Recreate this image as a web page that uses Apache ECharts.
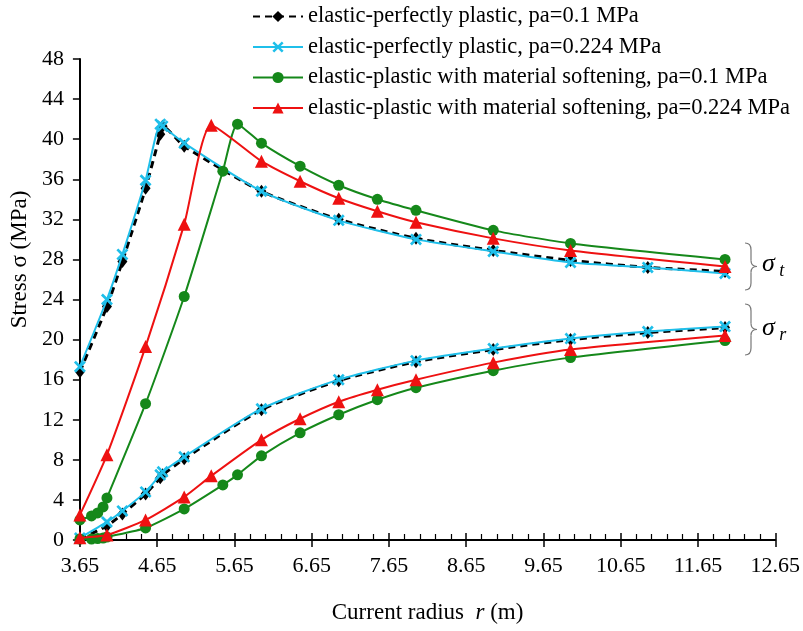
<!DOCTYPE html>
<html><head><meta charset="utf-8">
<script src="https://cdn.jsdelivr.net/npm/echarts@6/dist/echarts.min.js"></script>
<style>html,body{margin:0;padding:0;background:#fff}#c{width:803px;height:631px}</style>
</head><body><div id="c"></div>
<script>
// ---- data ----
const seriesNames = [
  'elastic-perfectly plastic, pa=0.1 MPa',
  'elastic-perfectly plastic, pa=0.224 MPa',
  'elastic-plastic with material softening, pa=0.1 MPa',
  'elastic-plastic with material softening, pa=0.224 MPa'
];
const xTicks = [3.65, 4.65, 5.65, 6.65, 7.65, 8.65, 9.65, 10.65, 11.65, 12.65];
const yTicks = [0, 4, 8, 12, 16, 20, 24, 28, 32, 36, 40, 44, 48];

const rPP      = [3.65, 4.0, 4.2, 4.5, 4.69, 4.72, 5.0, 6, 7, 8, 9, 10, 11, 12];
const pp01_t   = [16.8, 23.3, 27.8, 35.1, 40.5, 41.3, 39.3, 34.8, 32.0, 30.1, 28.9, 27.9, 27.2, 26.8];
const pp01_r   = [0.1, 1.4, 2.6, 4.6, 6.2, 6.5, 8.1, 13.0, 15.9, 17.8, 19.0, 20.0, 20.7, 21.2];
const pp0224_t = [17.3, 24.0, 28.5, 35.9, 41.5, 41.3, 39.6, 34.8, 31.9, 30.0, 28.8, 27.7, 27.2, 26.6];
const pp0224_r = [0.2, 1.8, 2.9, 4.8, 6.5, 6.8, 8.3, 13.1, 16.0, 17.9, 19.1, 20.1, 20.8, 21.3];

const rSoft01  = [3.65, 3.8, 3.88, 3.95, 4.0, 4.5, 5.0, 5.5, 5.69, 6, 6.5, 7, 7.5, 8, 9, 10, 12];
const soft01_t = [2.0, 2.4, 2.7, 3.3, 4.2, 13.6, 24.3, 36.8, 41.5, 39.6, 37.3, 35.4, 34.0, 32.9, 30.9, 29.6, 28.0];
const soft01_r = [0.1, 0.1, 0.15, 0.2, 0.3, 1.2, 3.1, 5.5, 6.5, 8.4, 10.7, 12.5, 14.0, 15.2, 16.9, 18.2, 19.9];

const rSoft0224  = [3.65, 4.0, 4.5, 5.0, 5.35, 6, 6.5, 7, 7.5, 8, 9, 10, 12];
const soft0224_t = [2.5, 8.5, 19.3, 31.5, 41.4, 37.8, 35.8, 34.1, 32.8, 31.7, 30.1, 28.9, 27.3];
const soft0224_r = [0.224, 0.5, 2.0, 4.3, 6.4, 10.0, 12.1, 13.8, 15.0, 16.0, 17.7, 19.0, 20.4];

// ---- build ----
const FONT = 'Liberation Serif';
const zip = (xs, ys) => xs.map((x, i) => [x, ys[i]]);
const crossPath = 'path://M0,1.6L1.6,0L5,3.4L8.4,0L10,1.6L6.6,5L10,8.4L8.4,10L5,6.6L1.6,10L0,8.4L3.4,5Z';

const styles = [
  {color:'#000000', symbol:'diamond', symbolSize:[10,13], lineStyle:{color:'#000', width:3, type:[7,5]}},
  {color:'#1fbfea', symbol:crossPath, symbolSize:12, lineStyle:{color:'#1fbfea', width:2}},
  {color:'#15881a', symbol:'circle', symbolSize:11, lineStyle:{color:'#15881a', width:2}},
  {color:'#ee1111', symbol:'triangle', symbolSize:13, lineStyle:{color:'#ee1111', width:2}}
];
const datasets = [
  [zip(rPP, pp01_t), zip(rPP, pp01_r)],
  [zip(rPP, pp0224_t), zip(rPP, pp0224_r)],
  [zip(rSoft01, soft01_t), zip(rSoft01, soft01_r)],
  [zip(rSoft0224, soft0224_t), zip(rSoft0224, soft0224_r)]
];
const series = [];
datasets.forEach((pair, i) => {
  pair.forEach(d => {
    series.push({
      name: seriesNames[i], type: 'line', data: d,
      xAxisIndex: 0, yAxisIndex: 0,
      symbol: styles[i].symbol, symbolSize: styles[i].symbolSize,
      showAllSymbol: true, smooth: 0.2,
      itemStyle: {color: styles[i].color},
      lineStyle: styles[i].lineStyle,
      emphasis: {disabled: true}, animation: false, z: 2 + i
    });
  });
});

// brace made of curves (annotation)
function brace(x0, y0, h) {
  const w = 6, m = h / 2, st = {stroke: '#777', lineWidth: 1.2, fill: 'none'};
  return {type: 'group', x: x0, y: y0, children: [
    {type: 'bezierCurve', shape: {x1: 0, y1: 0, x2: w, y2: 7, cpx1: w, cpy1: 0}, style: st},
    {type: 'line', shape: {x1: w, y1: 7, x2: w, y2: m - 6}, style: st},
    {type: 'bezierCurve', shape: {x1: w, y1: m - 6, x2: 2 * w, y2: m, cpx1: w, cpy1: m}, style: st},
    {type: 'bezierCurve', shape: {x1: 2 * w, y1: m, x2: w, y2: m + 6, cpx1: w, cpy1: m}, style: st},
    {type: 'line', shape: {x1: w, y1: m + 6, x2: w, y2: h - 7}, style: st},
    {type: 'bezierCurve', shape: {x1: w, y1: h - 7, x2: 0, y2: h, cpx1: w, cpy1: h}, style: st}
  ]};
}
function sigmaLabel(x, y, sub) {
  return {type: 'text', x: x, y: y, style: {text: '{s|σ}{b| ' + sub + '}', verticalAlign: 'middle',
    rich: {s: {fontFamily: FONT, fontStyle: 'italic', fontSize: 26, fill: '#000'},
           b: {fontFamily: FONT, fontStyle: 'italic', fontSize: 18, fill: '#000', padding: [14, 0, 0, 0]}}}};
}

const chart = echarts.init(document.getElementById('c'), null, {renderer: 'canvas'});
chart.setOption({
  animation: false,
  backgroundColor: '#fff',
  grid: {left: 77, right: 22, top: 59, bottom: 91, containLabel: false},
  legend: {
    data: seriesNames, orient: 'vertical', left: 247, top: 0,
    itemWidth: 50, itemHeight: 14, itemGap: 7.5,
    textStyle: {fontFamily: FONT, fontSize: 22.5, color: '#000'}
  },
  xAxis: [{
    type: 'value', min: xTicks[0], max: xTicks[xTicks.length - 1], interval: 1,
    position: 'bottom',
    axisLine: {show: true, onZero: false, lineStyle: {color: '#000', width: 2}},
    axisTick: {show: true, inside: true, length: 7, lineStyle: {color: '#000', width: 1.5}},
    minorTick: {show: true, splitNumber: 5, length: 6, lineStyle: {color: '#000', width: 1.2}},
    splitLine: {show: false},
    axisLabel: {margin: 15, fontFamily: FONT, fontSize: 22, color: '#000',
      formatter: v => v.toFixed(2)},
    name: '{n|Current radius  }{i|r}{n| (m)}', nameLocation: 'middle', nameGap: 61,
    nameTextStyle: {rich: {n: {fontFamily: FONT, fontSize: 23, color: '#000'},
                           i: {fontFamily: FONT, fontSize: 23, fontStyle: 'italic', color: '#000'}}}
  }, {
    type: 'value', min: xTicks[0], max: xTicks[xTicks.length - 1], interval: 1,
    position: 'bottom',
    axisLine: {show: false},
    axisTick: {show: true, inside: false, length: 7, lineStyle: {color: '#000', width: 1.5}},
    axisLabel: {show: false}, splitLine: {show: false}
  }],
  yAxis: {
    type: 'value', min: yTicks[0], max: yTicks[yTicks.length - 1], interval: 4,
    axisLine: {show: true, lineStyle: {color: '#000', width: 2}},
    axisTick: {show: true, inside: false, length: 7, lineStyle: {color: '#000', width: 1.5}},
    splitLine: {show: false},
    axisLabel: {margin: 16, fontFamily: FONT, fontSize: 22, color: '#000'},
    name: 'Stress σ (MPa)', nameLocation: 'middle', nameGap: 44, nameRotate: 90,
    nameTextStyle: {fontFamily: FONT, fontSize: 23, color: '#000', padding: [0, 0, 0, 80]}
  },
  graphic: [
    brace(745, 243, 47),
    brace(745, 304, 51),
    sigmaLabel(762, 264, 't'),
    sigmaLabel(762, 328, 'r')
  ],
  series: series
});
</script>
</body></html>
